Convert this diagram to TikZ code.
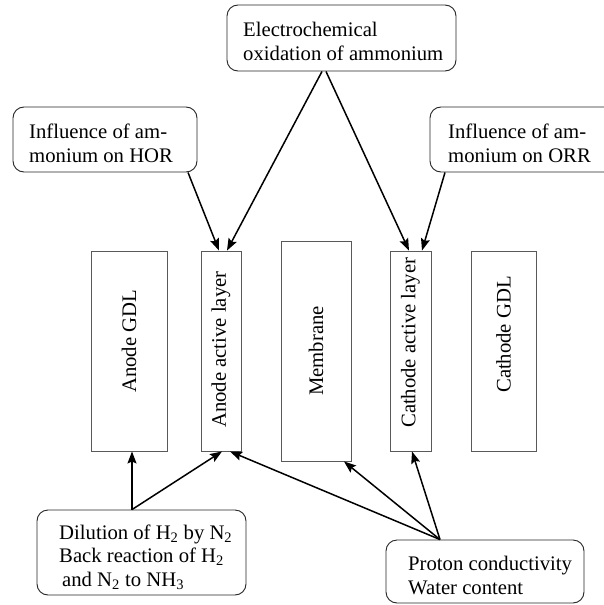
\documentclass[tikz,border=0pt]{standalone}
\usepackage{fontspec}
\setmainfont{Liberation Serif}
\usetikzlibrary{arrows.meta,calc}
\begin{document}
\begin{tikzpicture}[x=1pt,y=-1pt,
  rbox/.style={draw=black!85, line width=0.9pt, rounded corners=11pt, inner sep=0pt},
  layer/.style={draw=black!65, line width=0.9pt, inner sep=0pt, minimum height=200pt},
  txt/.style={font=\fontsize{20.7}{23.5}\selectfont, align=left, inner sep=0pt, anchor=base west},
  vtxt/.style={font=\fontsize{20.7}{23.5}\selectfont, inner sep=0pt, rotate=90, anchor=west},
  arr/.style={-{Stealth[length=12pt,width=9pt,inset=2pt]}, line width=1.5pt}
]
\clip (0,0) rectangle (604,605);
\fill[white] (0,0) rectangle (604,605);

% rounded boxes
\node[rbox, minimum width=229pt, minimum height=66pt] (top) at (341.5,38) {};
\node[rbox, minimum width=184pt, minimum height=65pt] (hor) at (105,139.5) {};
\node[rbox, minimum width=195pt, minimum height=65pt] (orr) at (527.5,139.5) {};
\node[rbox, minimum width=209pt, minimum height=85pt] (dil) at (141.5,552.5) {};
\node[rbox, minimum width=198pt, minimum height=63pt] (pro) at (485,571.5) {};

% texts (anchor = baseline of the last line)
\node[txt] (toptxt) at (243,60) {Electrochemical\\oxidation of ammonium};
\node[txt] (hortxt) at (29,162) {Influence of am-\\monium on HOR};
\node[txt] (orrtxt) at (448,162) {Influence of am-\\monium on ORR};
\node[txt] (diltxt) at (59,586) {Dilution of H\textsubscript{2} by N\textsubscript{2}\\Back reaction of H\textsubscript{2}\\\hspace{3pt}and N\textsubscript{2} to NH\textsubscript{3}};
\node[txt] (protxt) at (408,594) {Proton conductivity\\Water content};

% layers
\node[layer, minimum width=76pt] (agdl) at (129,351) {};
\node[layer, minimum width=40pt] (aal) at (221,351) {};
\node[layer, minimum width=70pt, minimum height=220pt] (mem) at (316,351) {};
\node[layer, minimum width=41pt] (cal) at (410.5,351) {};
\node[layer, minimum width=65pt] (cgdl) at (503.5,351) {};

\node[vtxt] (agdltxt) at (129,393) {Anode GDL};
\node[vtxt] (aaltxt) at (221,428) {Anode active layer};
\node[vtxt] (memtxt) at (316,396) {Membrane};
\node[vtxt] (caltxt) at (410.5,428) {Cathode active layer};
\node[vtxt] (cgdltxt) at (503.5,393) {Cathode GDL};

% arrows
\draw[arr] ($(hor.south)+(83,0)$) -- ($(aal.north)+(-2,0)$);
\draw[arr] ($(top.south)+(-19.5,0)$) -- ($(aal.north)+(6,0)$);
\draw[arr] ($(top.south)+(-15.5,0)$) -- ($(cal.north)+(-1.5,0)$);
\draw[arr] ($(orr.south)+(-82.5,0)$) -- ($(cal.north)+(11.5,0)$);

\coordinate (dtop) at ($(dil.north)+(-9.5,0)$);
\draw[arr] (dtop) -- ($(agdl.south)+(3,0)$);
\draw[arr] (dtop) -- ($(aal.south)+(1,0)$);

\coordinate (ptop) at ($(pro.north)+(-45,0)$);
\draw[arr] (ptop) -- ($(aal.south)+(9,0)$);
\draw[arr] (ptop) -- ($(mem.south)+(28,0)$);
\draw[arr] (ptop) -- ($(cal.south)+(1.5,0)$);
\end{tikzpicture}
\end{document}
